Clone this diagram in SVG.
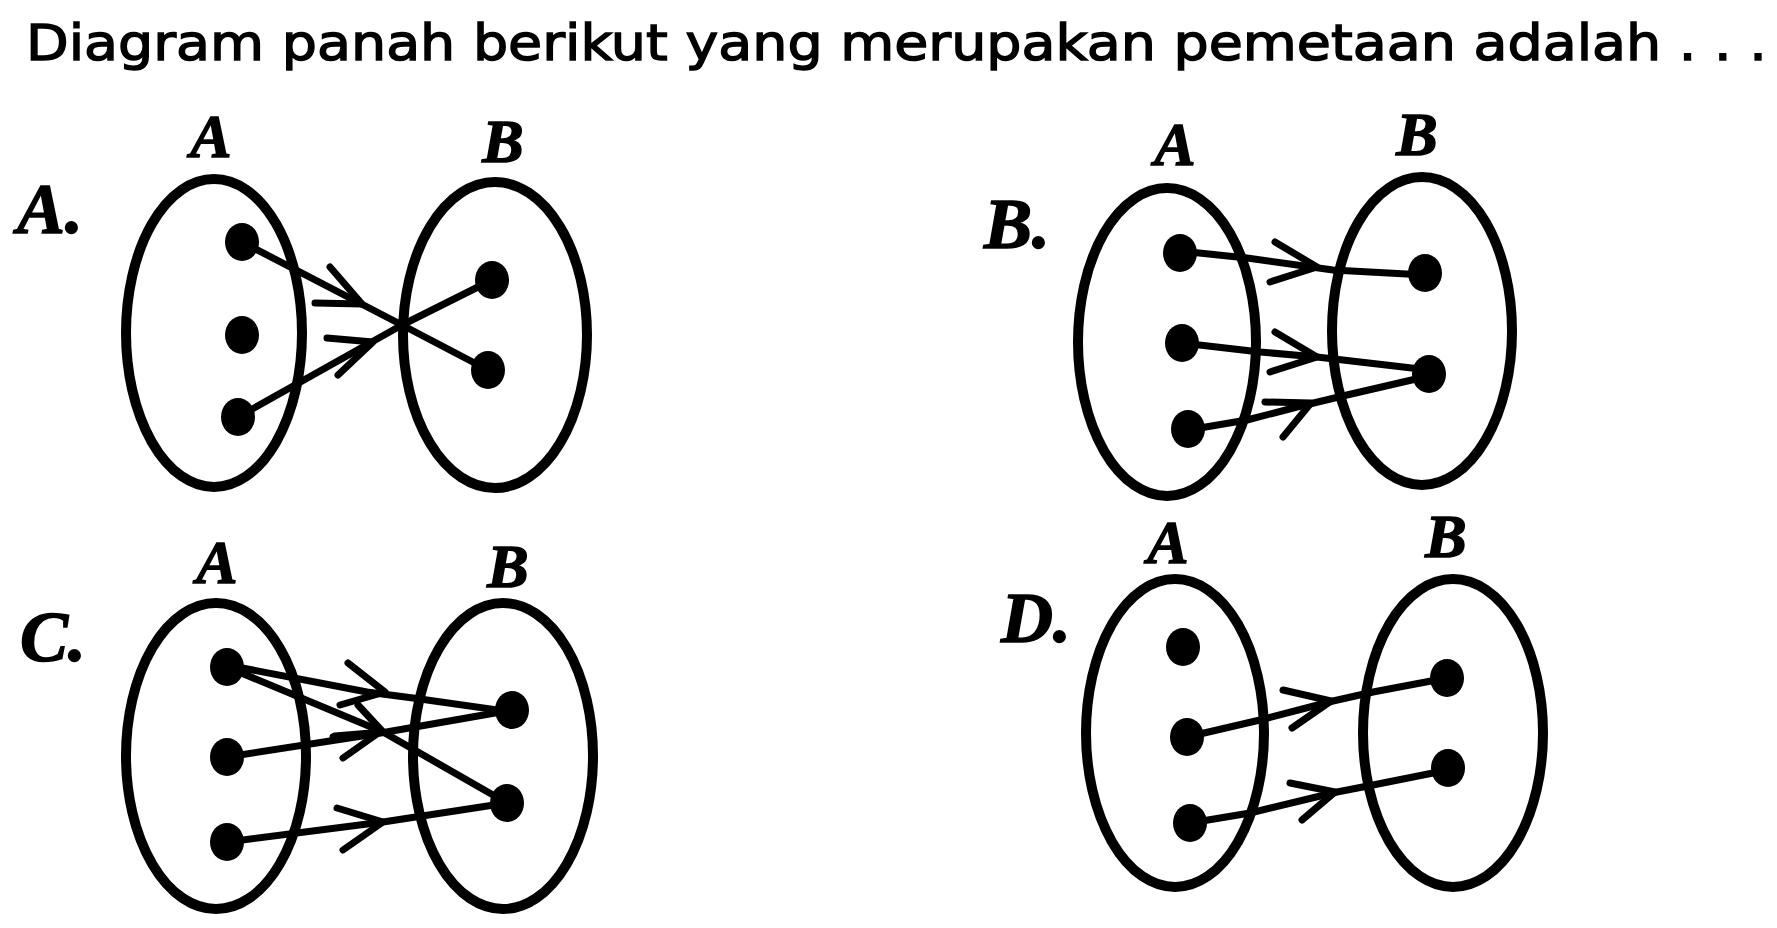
<svg xmlns="http://www.w3.org/2000/svg" width="1777" height="928" viewBox="0 0 1777 928">
<style>
.title{font-family:"DejaVu Sans","Liberation Sans",sans-serif;font-size:50px;fill:#000;stroke:#000;stroke-width:1.4}
.opt{font-family:"Liberation Serif","Times New Roman",serif;font-weight:bold;font-style:italic;font-size:72px;fill:#000;stroke:#000;stroke-width:1.5}
.set{font-family:"Liberation Serif","Times New Roman",serif;font-weight:bold;font-style:italic;font-size:62px;fill:#000;stroke:#000;stroke-width:1.5;text-anchor:middle}
.oval{fill:none;stroke:#000;stroke-width:10}
.dot{fill:#000}
.ln{fill:none;stroke:#000;stroke-width:7;stroke-linecap:round;stroke-linejoin:round}
.ah{fill:none;stroke:#000;stroke-width:7;stroke-linecap:round;stroke-linejoin:round}
</style>
<rect width="1777" height="928" fill="#fff"/>
<text class="title" x="26" y="60" textLength="1741" lengthAdjust="spacingAndGlyphs">Diagram panah berikut yang merupakan pemetaan adalah . . .</text>

<g id="optA">
<text class="opt" x="17" y="233">A.</text>
<text class="set" x="211" y="157">A</text>
<text class="set" x="503" y="162">B</text>
</g>
<g id="optB">
<text class="opt" x="984" y="248">B.</text>
<text class="set" x="1175" y="165">A</text>
<text class="set" x="1417" y="155">B</text>
</g>
<g id="optC">
<text class="opt" x="20" y="661">C.</text>
<text class="set" x="217" y="583">A</text>
<text class="set" x="508" y="587">B</text>
</g>
<g id="optD">
<text class="opt" x="1001" y="642">D.</text>
<text class="set" x="1168" y="563">A</text>
<text class="set" x="1446" y="557">B</text>
</g>

<g id="setA-A"><ellipse class="oval" cx="214" cy="333" rx="88" ry="154"/></g>
<g id="setA-B"><ellipse class="oval" cx="495" cy="335" rx="92" ry="153"/></g>
<g id="setB-A"><ellipse class="oval" cx="1167" cy="342" rx="89" ry="154"/></g>
<g id="setB-B"><ellipse class="oval" cx="1422" cy="331" rx="90" ry="154"/></g>
<g id="setC-A"><ellipse class="oval" cx="216" cy="756" rx="90" ry="153"/></g>
<g id="setC-B"><ellipse class="oval" cx="503" cy="756" rx="90" ry="153"/></g>
<g id="setD-A"><ellipse class="oval" cx="1175" cy="733" rx="89" ry="154"/></g>
<g id="setD-B"><ellipse class="oval" cx="1453" cy="733" rx="90" ry="154"/></g>

<g id="connectors">
<path class="ln" d="M242,242 L402,325 L488,370"/>
<path class="ah" d="M330,267 L362,304 L315,303"/>
<path class="ln" d="M238,417 L402,325 L492,280"/>
<path class="ah" d="M327,338 L373,342 L338,375"/>

<path class="ln" d="M1180,251 L1247,258 L1333,270 L1425,275"/>
<path class="ah" d="M1275,242 L1317,267 L1270,282"/>
<path class="ln" d="M1182,343 L1260,352 L1317,357 L1429,370"/>
<path class="ah" d="M1275,332 L1317,357 L1270,372"/>
<path class="ln" d="M1188,430 L1247,420 L1297,407 L1347,395 L1429,376"/>
<path class="ah" d="M1265,402 L1311,403 L1283,437"/>

<path class="ln" d="M227,665 L367,692 L413,698 L512,712"/>
<path class="ah" d="M348,663 L385,692 L340,705"/>
<path class="ln" d="M227,667 L383,732 L507,803"/>
<path class="ah" d="M358,705 L383,732 L335,736"/>
<path class="ln" d="M227,757 L375,734 L512,710"/>
<path class="ah" d="M333,737 L377,734 L343,758"/>
<path class="ln" d="M227,842 L383,822 L507,803"/>
<path class="ah" d="M337,808 L383,822 L343,850"/>

<path class="ln" d="M1187,737 L1260,720 L1333,701 L1373,692 L1447,678"/>
<path class="ah" d="M1283,690 L1331,701 L1292,728"/>
<path class="ln" d="M1190,823 L1250,813 L1337,792 L1373,785 L1448,770"/>
<path class="ah" d="M1290,783 L1335,792 L1302,820"/>
</g>

<g id="elementsA">
<ellipse class="dot" cx="242" cy="242" rx="17" ry="19"/>
<ellipse class="dot" cx="242" cy="335" rx="17" ry="19"/>
<ellipse class="dot" cx="238" cy="417" rx="17" ry="19"/>
<ellipse class="dot" cx="492" cy="280" rx="17" ry="19"/>
<ellipse class="dot" cx="488" cy="370" rx="17" ry="19"/>
</g>
<g id="elementsB">
<ellipse class="dot" cx="1180" cy="253" rx="17" ry="19"/>
<ellipse class="dot" cx="1182" cy="343" rx="17" ry="19"/>
<ellipse class="dot" cx="1188" cy="429" rx="17" ry="19"/>
<ellipse class="dot" cx="1425" cy="273" rx="17" ry="19"/>
<ellipse class="dot" cx="1429" cy="374" rx="17" ry="19"/>
</g>
<g id="elementsC">
<ellipse class="dot" cx="227" cy="667" rx="17" ry="19"/>
<ellipse class="dot" cx="227" cy="757" rx="17" ry="19"/>
<ellipse class="dot" cx="227" cy="842" rx="17" ry="19"/>
<ellipse class="dot" cx="512" cy="710" rx="17" ry="19"/>
<ellipse class="dot" cx="507" cy="803" rx="17" ry="19"/>
</g>
<g id="elementsD">
<ellipse class="dot" cx="1183" cy="647" rx="17" ry="19"/>
<ellipse class="dot" cx="1187" cy="737" rx="17" ry="19"/>
<ellipse class="dot" cx="1190" cy="823" rx="17" ry="19"/>
<ellipse class="dot" cx="1447" cy="678" rx="17" ry="19"/>
<ellipse class="dot" cx="1448" cy="768" rx="17" ry="19"/>
</g>
</svg>
